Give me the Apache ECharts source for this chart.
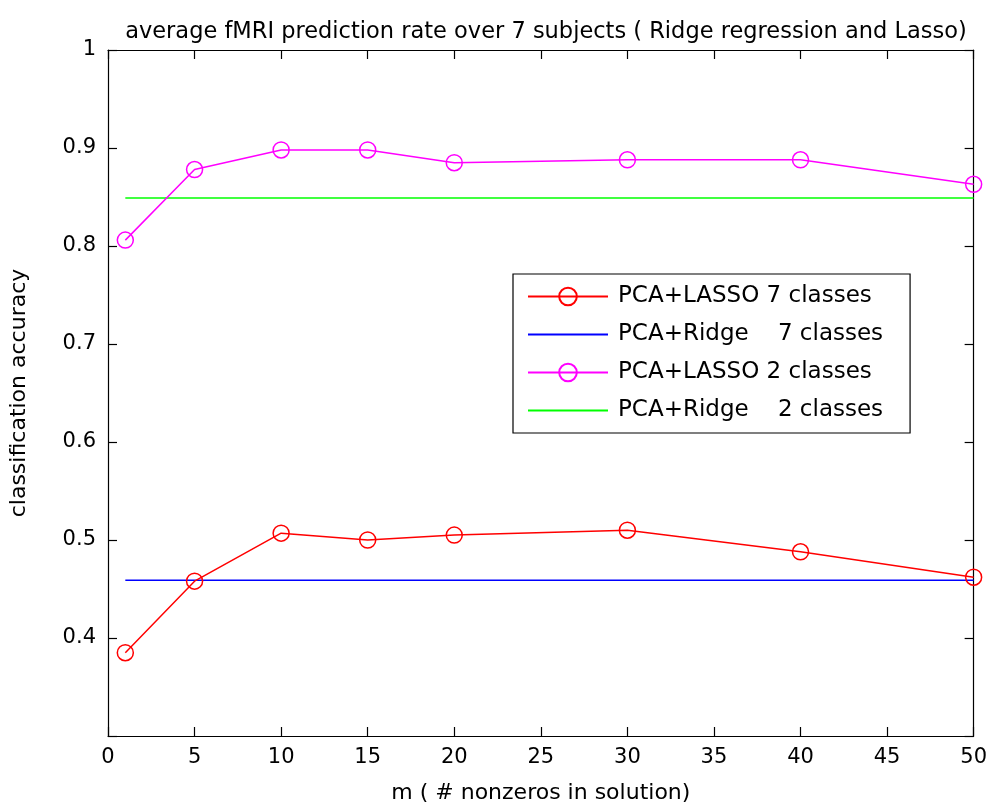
<!DOCTYPE html>
<html>
<head>
<meta charset="utf-8">
<script src="https://cdn.jsdelivr.net/npm/echarts@6/dist/echarts.min.js"></script>
<style>
  html, body { margin: 0; padding: 0; background: #fff; }
  #chart { width: 990px; height: 809px; }
</style>
</head>
<body>
<div id="chart"></div>
<script>
var FONT = "'DejaVu Sans', 'Liberation Sans', sans-serif"
var seriesNames = ['PCA+LASSO 7 classes', 'PCA+Ridge    7 classes', 'PCA+LASSO 2 classes', 'PCA+Ridge    2 classes']
var mValues = [1, 5, 10, 15, 20, 30, 40, 50]
var lasso7 = [0.385, 0.458, 0.507, 0.500, 0.505, 0.510, 0.488, 0.462]
var lasso2 = [0.806, 0.878, 0.898, 0.898, 0.885, 0.888, 0.888, 0.863]
var ridgeX = [1, 50]
var ridge7 = [0.459, 0.459]
var ridge2 = [0.849, 0.849]

function pairs(xs, ys) {
  return xs.map(function (x, i) { return [x, ys[i]] })
}

var myChart = echarts.init(document.getElementById('chart'))
var axisCommon = {
  axisLine: { show: true, onZero: false, lineStyle: { color: '#000', width: 1.2 } },
  axisTick: { show: true, inside: true, length: 9, lineStyle: { color: '#000', width: 1.2 } },
  splitLine: { show: false }
}
var hollow = 'rgba(0,0,0,0)'
var option = {
  backgroundColor: '#fff',
  animation: false,
  title: {
    text: 'average fMRI prediction rate over 7 subjects ( Ridge regression and Lasso)',
    left: 541, top: 16, textAlign: 'center',
    textStyle: { fontFamily: FONT, fontSize: 22.5, fontWeight: 'normal', color: '#000' }
  },
  grid: { left: 107, right: 13, top: 50, bottom: 73, containLabel: false },
  legend: {
    orient: 'vertical',
    left: 513, top: 274,
    padding: [11, 27, 11, 14],
    itemGap: 15,
    itemWidth: 80, itemHeight: 22,
    borderColor: '#000', borderWidth: 1.2,
    backgroundColor: '#fff',
    textStyle: { fontFamily: FONT, fontSize: 23, color: '#000', padding: [0, 0, 0, 5] },
    data: [
      { name: seriesNames[0] },
      { name: seriesNames[1], itemStyle: { opacity: 0 } },
      { name: seriesNames[2] },
      { name: seriesNames[3], itemStyle: { opacity: 0 } }
    ]
  },
  xAxis: [
    Object.assign({
      type: 'value', min: 0, max: 50, interval: 5, position: 'bottom',
      name: 'm ( # nonzeros in solution)', nameLocation: 'middle', nameGap: 46,
      nameTextStyle: { fontFamily: FONT, fontSize: 22, color: '#000' },
      axisLabel: { fontFamily: FONT, fontSize: 21, color: '#000', margin: 11 }
    }, axisCommon),
    Object.assign({
      type: 'value', min: 0, max: 50, interval: 5, position: 'top',
      axisLabel: { show: false }
    }, axisCommon)
  ],
  yAxis: [
    Object.assign({
      type: 'value', min: 0.3, max: 1, interval: 0.1, position: 'left',
      name: 'classification accuracy', nameLocation: 'middle', nameGap: 78,
      nameTextStyle: { fontFamily: FONT, fontSize: 22, color: '#000' },
      axisLabel: {
        fontFamily: FONT, fontSize: 21, color: '#000', margin: 12,
        formatter: function (v) {
          if (Math.abs(v - 0.3) < 1e-6) return ''
          if (Math.abs(v - 1) < 1e-6) return '1'
          return v.toFixed(1)
        }
      }
    }, axisCommon),
    Object.assign({
      type: 'value', min: 0.3, max: 1, interval: 0.1, position: 'right',
      axisLabel: { show: false }
    }, axisCommon)
  ],
  series: [
    {
      name: seriesNames[0], type: 'line', data: pairs(mValues, lasso7),
      symbol: 'circle', symbolSize: 16, color: '#ff0000',
      lineStyle: { width: 1.5, color: '#ff0000' },
      itemStyle: { color: hollow, borderColor: '#ff0000', borderWidth: 1.5 },
      z: 4, clip: false
    },
    {
      name: seriesNames[1], type: 'line', data: pairs(ridgeX, ridge7),
      symbol: 'none', color: '#0000ff',
      lineStyle: { width: 1.5, color: '#0000ff' }, z: 3
    },
    {
      name: seriesNames[2], type: 'line', data: pairs(mValues, lasso2),
      symbol: 'circle', symbolSize: 16, color: '#ff00ff',
      lineStyle: { width: 1.5, color: '#ff00ff' },
      itemStyle: { color: hollow, borderColor: '#ff00ff', borderWidth: 1.5 },
      z: 4, clip: false
    },
    {
      name: seriesNames[3], type: 'line', data: pairs(ridgeX, ridge2),
      symbol: 'none', color: '#00ff00',
      lineStyle: { width: 1.5, color: '#00ff00' }, z: 3
    }
  ]
}
myChart.setOption(option)
</script>
</body>
</html>
